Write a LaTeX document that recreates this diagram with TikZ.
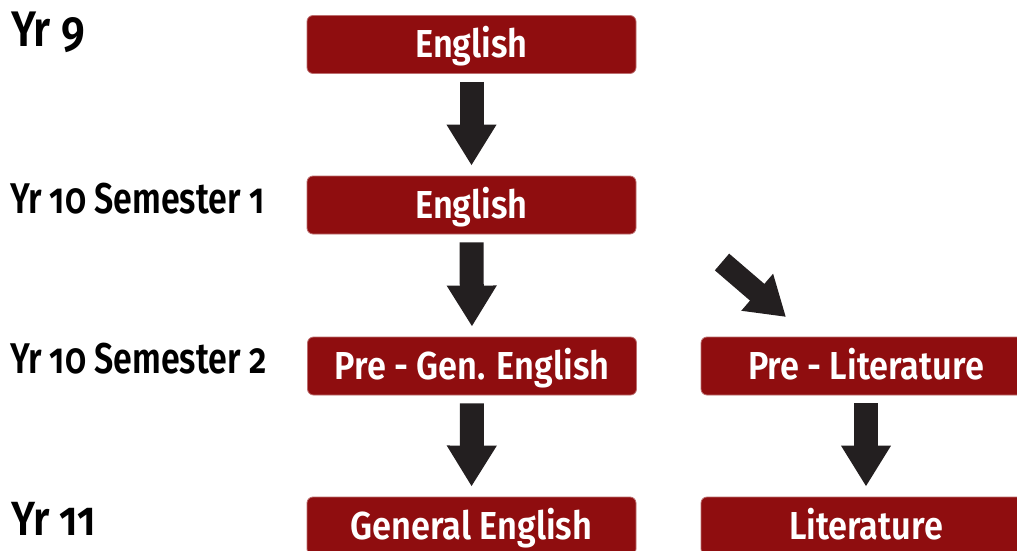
\documentclass[tikz,border=0pt]{standalone}
\usepackage{fontspec}
\setmainfont{Fira Sans}[Numbers=OldStyle]
\newfontfamily\labfont{Fira Sans SemiBold}[Numbers=OldStyle, FakeStretch=0.86]
\newfontfamily\semfont{Fira Sans SemiBold}[Numbers=OldStyle, FakeStretch=0.79]
\newfontfamily\boxfont{Fira Sans SemiBold}[FakeStretch=0.88]
\usetikzlibrary{arrows.meta}
\definecolor{boxred}{RGB}{143,13,15}
\definecolor{arrowc}{RGB}{35,31,32}
\tikzset{
  course/.style={fill=boxred, draw=boxred!60!white, line width=0.8pt, rounded corners=6pt,
    minimum width=329pt, minimum height=58pt, inner sep=0pt, text=white,
    text height=31pt, text depth=4pt,
    font=\boxfont\fontsize{39}{44}\selectfont},
  yearlab/.style={anchor=base west, inner sep=0pt, text=black},
  blockarrow/.style={draw=arrowc, line width=24pt, -{Triangle[width=47pt,length=41pt]},
    shorten <=8pt, shorten >=10pt},
  diagarrow/.style={draw=arrowc, line width=22pt, -{Triangle[width=46pt,length=38pt]}}
}
\begin{document}
\begin{tikzpicture}[x=1pt,y=-1pt]
\useasboundingbox (0,0) rectangle (1017,551);
\clip (0,0) rectangle (1017,551);
% year labels
\node[yearlab, font=\labfont\fontsize{50}{54}\selectfont] (y9) at (11,47) {Yr 9};
\node[yearlab, font=\semfont\fontsize{43}{48}\selectfont] (y10a) at (10,213) {Yr 10 Semester 1};
\node[yearlab, font=\semfont\fontsize{43}{48}\selectfont] (y10b) at (10,373) {Yr 10 Semester 2};
\node[yearlab, font=\labfont\fontsize{48}{54}\selectfont] (y11) at (11,535) {Yr 11};
% course boxes
\node[course] (e9) at (471.5,44.5) {English};
\node[course] (e10) at (471.5,205) {English};
\node[course] (pge) at (472,366) {Pre - Gen. English};
\node[course] (ge) at (471.5,526) {General English};
\node[course, minimum width=330pt] (pl) at (866,366) {Pre - Literature};
\node[course, minimum width=330pt] (lit) at (866,526) {Literature};
% arrows
\draw[blockarrow] (e9.south) -- (e10.north);
\draw[blockarrow] (e10.south) -- (pge.north);
\draw[blockarrow] (pge.south) -- (ge.north);
\draw[blockarrow] (pl.south) -- (lit.north);
\coordinate (dtail) at (722,262);
\coordinate (dtip) at (786,317);
\draw[diagarrow] (dtail) -- (dtip);
\end{tikzpicture}
\end{document}
